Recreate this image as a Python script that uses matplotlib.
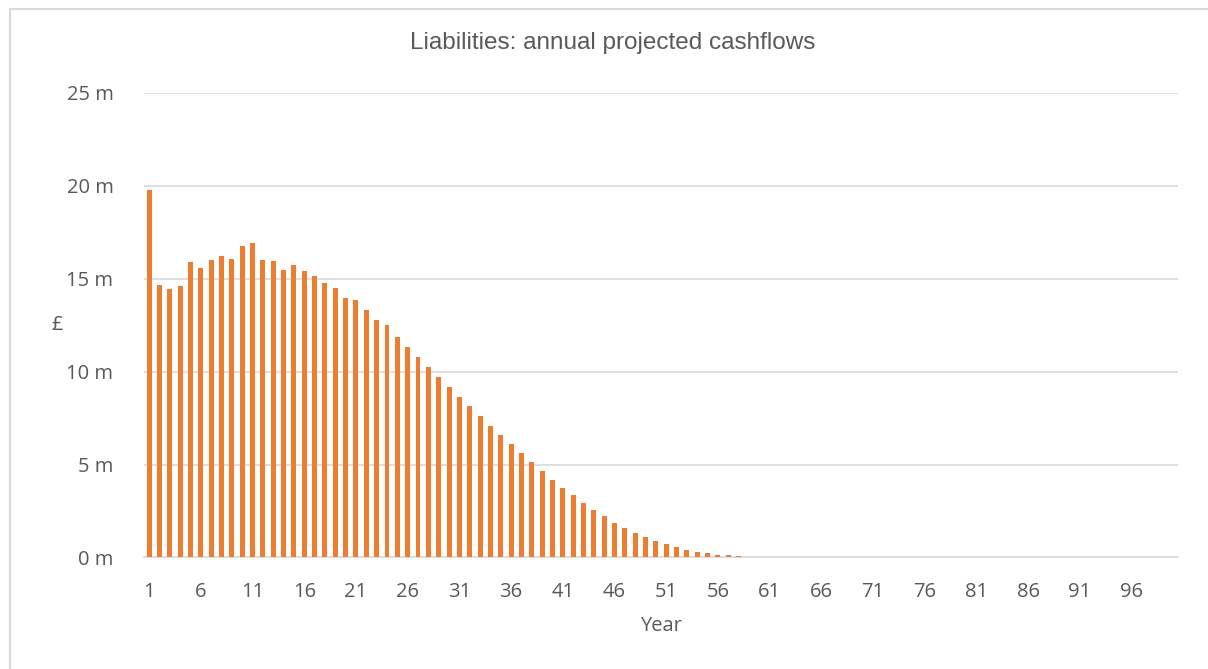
import numpy as np
import matplotlib
matplotlib.use("Agg")
import matplotlib.pyplot as plt
from matplotlib.lines import Line2D

# Projected liability cashflows per year, in £ millions
years = list(range(1, 101))
cashflows_m = [
    19.77, 14.66, 14.43, 14.62, 15.91, 15.57, 16.02, 16.25, 16.07, 16.76,
    16.90, 16.00, 15.95, 15.48, 15.72, 15.43, 15.14, 14.75, 14.53, 13.98,
    13.87, 13.32, 12.80, 12.51, 11.85, 11.34, 10.81, 10.27, 9.73, 9.19,
    8.66, 8.14, 7.62, 7.10, 6.58, 6.09, 5.60, 5.13, 4.66, 4.19,
    3.76, 3.35, 2.94, 2.56, 2.22, 1.88, 1.59, 1.31, 1.09, 0.88,
    0.70, 0.54, 0.41, 0.30, 0.22, 0.16, 0.11, 0.07, 0.04, 0.02,
    0.01, 0.005, 0.0, 0.0, 0.0, 0.0, 0.0, 0.0, 0.0, 0.0,
    0.0, 0.0, 0.0, 0.0, 0.0, 0.0, 0.0, 0.0, 0.0, 0.0,
    0.0, 0.0, 0.0, 0.0, 0.0, 0.0, 0.0, 0.0, 0.0, 0.0,
    0.0, 0.0, 0.0, 0.0, 0.0, 0.0, 0.0, 0.0, 0.0, 0.0,
]
y_ticks = [0, 5, 10, 15, 20, 25]
y_tick_labels = ["0 m", "5 m", "10 m", "15 m", "20 m", "25 m"]

ORANGE = "#ED7D31"
GRID = "#D9D9D9"
TEXT = "#595959"
TICK_FONT = "Open Sans"

fig = plt.figure(figsize=(12.08, 6.69), dpi=100)
ax = fig.add_axes([0.1192, 0.1667, 0.856, 0.6943])

x = np.arange(len(years))
ax.bar(x, cashflows_m, width=0.48, color=ORANGE, zorder=3)

ax.set_xlim(-0.5, len(years) - 0.5)
ax.set_ylim(0, 25)

ax.set_yticks(y_ticks)
ax.set_yticklabels(y_tick_labels, fontfamily=TICK_FONT, fontsize=14.5, color=TEXT)
tick_pos = [i for i, yr in enumerate(years) if (yr - 1) % 5 == 0]
ax.set_xticks(tick_pos)
ax.set_xticklabels([str(years[i]) for i in tick_pos], fontfamily=TICK_FONT,
                   fontsize=14.5, color=TEXT)
ax.tick_params(axis="both", length=0)
ax.tick_params(axis="x", pad=18)
ax.tick_params(axis="y", pad=22)

ax.grid(axis="y", color=GRID, linewidth=1.2, zorder=0)
for side in ["top", "right", "left"]:
    ax.spines[side].set_visible(False)
ax.spines["bottom"].set_color(GRID)
ax.spines["bottom"].set_linewidth(1.2)

ax.set_xlabel("Year", fontfamily=TICK_FONT, fontsize=14.5, color=TEXT, labelpad=10)
ax.set_ylabel("£", fontfamily=TICK_FONT, fontsize=14.5, color=TEXT, rotation=0,
              va="center", ha="center", labelpad=0)
ax.yaxis.set_label_coords(-0.084, 0.5)

fig.text(0.507, 0.936, "Liabilities: annual projected cashflows",
         ha="center", va="center", fontfamily="Liberation Sans", fontsize=17.5,
         color=TEXT)

# chart area frame (top and left edges)
fig.add_artist(Line2D([10 / 1208, 10 / 1208], [0, 1 - 9 / 669],
                      transform=fig.transFigure, color=GRID, linewidth=1.5))
fig.add_artist(Line2D([10 / 1208, 1], [1 - 9 / 669, 1 - 9 / 669],
                      transform=fig.transFigure, color=GRID, linewidth=1.5))

fig.savefig("out.png", dpi=100, facecolor="white")
